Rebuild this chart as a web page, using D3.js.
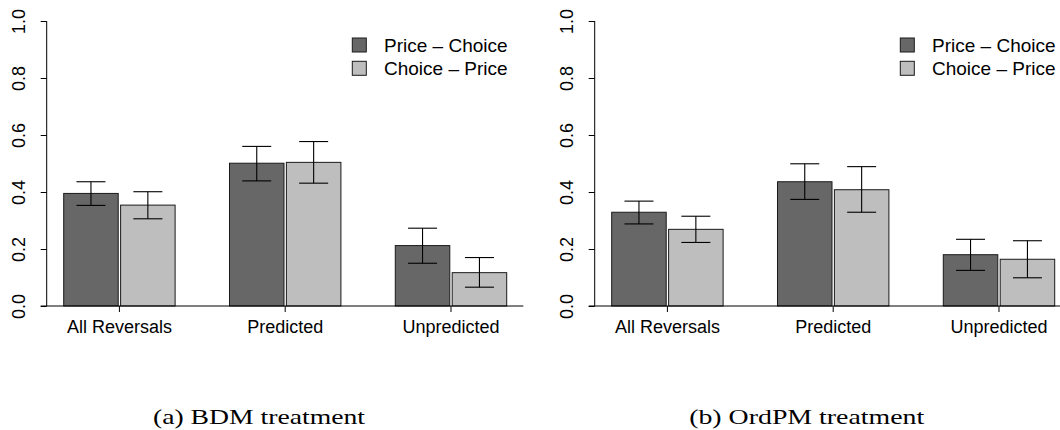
<!DOCTYPE html>
<html>
<head>
<meta charset="utf-8">
<script src="https://cdn.jsdelivr.net/npm/d3@7"></script>
<style>
  html, body { margin: 0; padding: 0; background: #fff; }
  svg { display: block; }
  .sans { font-family: "Liberation Sans", Arial, Helvetica, sans-serif; }
  .serif { font-family: "Liberation Serif", "Times New Roman", serif; }
</style>
</head>
<body>
<svg id="chart" width="1060" height="430"></svg>
<script>
// Reversal rates by treatment and order of elicitation
const categories = ["All Reversals", "Predicted", "Unpredicted"];
const seriesNames = ["Price – Choice", "Choice – Price"];
const seriesColors = ["#676767", "#bebebe"];
const yTicks = [0, 0.2, 0.4, 0.6, 0.8, 1.0];
const yTickLabels = ["0.0", "0.2", "0.4", "0.6", "0.8", "1.0"];

// BDM treatment
const bdmPriceChoice   = [0.395, 0.501, 0.212];
const bdmPriceChoiceLo = [0.353, 0.439, 0.150];
const bdmPriceChoiceHi = [0.436, 0.560, 0.273];
const bdmChoicePrice   = [0.354, 0.504, 0.117];
const bdmChoicePriceLo = [0.306, 0.431, 0.066];
const bdmChoicePriceHi = [0.401, 0.577, 0.170];

// OrdPM treatment
const ordPriceChoice   = [0.329, 0.436, 0.180];
const ordPriceChoiceLo = [0.288, 0.374, 0.125];
const ordPriceChoiceHi = [0.368, 0.499, 0.234];
const ordChoicePrice   = [0.269, 0.408, 0.164];
const ordChoicePriceLo = [0.223, 0.329, 0.099];
const ordChoicePriceHi = [0.315, 0.489, 0.229];

const captions = ["(a) BDM treatment", "(b) OrdPM treatment"];

const panels = [
  { values: [bdmPriceChoice, bdmChoicePrice], lo: [bdmPriceChoiceLo, bdmChoicePriceLo],
    hi: [bdmPriceChoiceHi, bdmChoicePriceHi], caption: captions[0] },
  { values: [ordPriceChoice, ordChoicePrice], lo: [ordPriceChoiceLo, ordChoicePriceLo],
    hi: [ordPriceChoiceHi, ordChoicePriceHi], caption: captions[1] }
];

// layout (pixels, relative to each panel)
const L = {
  panelOffsets: [0, 548],
  plotLeft: 40.7, plotRight: 523.3,
  yAxisX: 46.7,
  barsLeft: 63.7, barsRight: 506.7,
  yTop: 21, yBottom: 306,
  tick: 6,
  capHalf: 14.5,
  legendX: 352.3, legendTextX: 384, legendRows: [45, 68.3], legendBox: 14,
  captionCenters: [259, 806.7], captionWidths: [212, 235], captionY: 424
};

const svg = d3.select("#chart");

const y = d3.scaleLinear().domain([0, 1]).range([L.yBottom, L.yTop]);
const x = d3.scaleBand().domain(categories)
  .range([L.barsLeft, L.barsRight]).paddingInner(0.328).paddingOuter(0);
const xs = d3.scaleBand().domain(seriesNames)
  .range([0, x.bandwidth()]).paddingInner(0.042).paddingOuter(0);

panels.forEach((p, pi) => {
  const g = svg.append("g").attr("transform", `translate(${L.panelOffsets[pi]},0)`);

  // bars
  p.values.forEach((vals, si) => {
    g.selectAll(null).data(vals).enter().append("rect")
      .attr("x", (d, i) => x(categories[i]) + xs(seriesNames[si]))
      .attr("y", d => y(d))
      .attr("width", xs.bandwidth())
      .attr("height", d => y(0) - y(d))
      .attr("fill", seriesColors[si])
      .attr("stroke", "#1a1a1a")
      .attr("stroke-width", 1);
  });

  // error bars
  p.values.forEach((vals, si) => {
    vals.forEach((v, i) => {
      const cx = x(categories[i]) + xs(seriesNames[si]) + xs.bandwidth() / 2;
      const lo = p.lo[si][i], hi = p.hi[si][i];
      const eg = g.append("g").attr("stroke", "#000").attr("stroke-width", 1.1);
      eg.append("line").attr("x1", cx).attr("x2", cx).attr("y1", y(lo)).attr("y2", y(hi));
      eg.append("line").attr("x1", cx - L.capHalf).attr("x2", cx + L.capHalf).attr("y1", y(hi)).attr("y2", y(hi));
      eg.append("line").attr("x1", cx - L.capHalf).attr("x2", cx + L.capHalf).attr("y1", y(lo)).attr("y2", y(lo));
    });
  });

  // baseline
  g.append("line")
    .attr("x1", L.plotLeft).attr("x2", L.plotRight)
    .attr("y1", y(0)).attr("y2", y(0))
    .attr("stroke", "#000").attr("stroke-width", 1);

  // x axis ticks & labels
  const xAxis = d3.axisBottom(x).tickSize(L.tick).tickPadding(10);
  const gx = g.append("g").attr("transform", `translate(0,${y(0)})`).call(xAxis);
  gx.select(".domain").remove();
  gx.selectAll(".tick line").attr("stroke", "#000");
  gx.selectAll(".tick text")
    .attr("class", "sans").attr("font-size", 18).attr("fill", "#000")
    .attr("dy", null).attr("y", 27);

  // y axis
  const yAxis = d3.axisLeft(y).tickValues(yTicks)
    .tickFormat((d, i) => yTickLabels[i]).tickSize(L.tick).tickPadding(0);
  const gy = g.append("g").attr("transform", `translate(${L.yAxisX},0)`).call(yAxis);
  gy.select(".domain").attr("d", `M0,${y(0)}V${y(1)}`).attr("stroke", "#000");
  gy.selectAll(".tick line").attr("stroke", "#000");
  gy.selectAll(".tick text")
    .attr("class", "sans").attr("font-size", 18).attr("fill", "#000")
    .attr("x", null).attr("dy", null)
    .attr("text-anchor", "middle")
    .attr("transform", "translate(-21.7,0) rotate(-90)");

  // legend
  seriesNames.forEach((name, si) => {
    const cy = L.legendRows[si];
    g.append("rect")
      .attr("x", L.legendX).attr("y", cy - L.legendBox / 2)
      .attr("width", L.legendBox).attr("height", L.legendBox)
      .attr("fill", seriesColors[si]).attr("stroke", "#1a1a1a").attr("stroke-width", 1);
    g.append("text").attr("class", "sans")
      .attr("x", L.legendTextX).attr("y", cy + 6.8)
      .attr("font-size", 19).attr("fill", "#000")
      .text(name);
  });
});

// captions
panels.forEach((p, pi) => {
  svg.append("text").attr("class", "serif")
    .attr("x", L.captionCenters[pi] - L.captionWidths[pi] / 2)
    .attr("y", L.captionY)
    .attr("font-size", 21)
    .attr("textLength", L.captionWidths[pi])
    .attr("lengthAdjust", "spacingAndGlyphs")
    .attr("fill", "#000")
    .text(p.caption);
});
</script>
</body>
</html>
